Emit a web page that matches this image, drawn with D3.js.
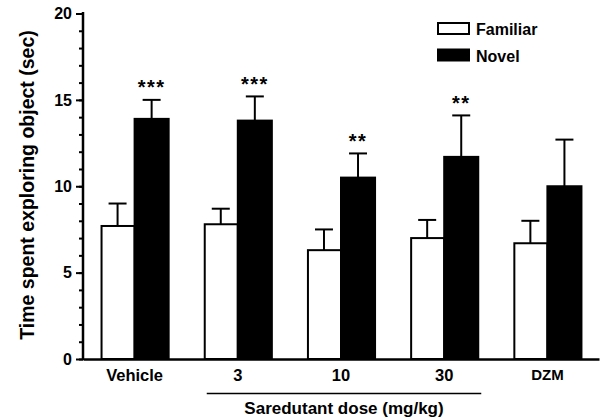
<!DOCTYPE html>
<html>
<head>
<meta charset="utf-8">
<script src="https://cdn.jsdelivr.net/npm/d3@7"></script>
<style>
  body { margin: 0; background: #fff; }
  text { font-family: "Liberation Sans", Arial, sans-serif; font-weight: bold; fill: #000; }
</style>
</head>
<body>
<div id="chart"></div>
<script>
// values (mean and SEM, seconds)
const groups = ["Vehicle", "3", "10", "30", "DZM"];
const series = ["Familiar", "Novel"];
const familiar = [7.7, 7.8, 6.3, 7.0, 6.7];
const familiarErr = [1.3, 0.9, 1.2, 1.05, 1.3];
const novel = [13.9, 13.8, 10.5, 11.7, 10.0];
const novelErr = [1.1, 1.4, 1.4, 2.4, 2.7];
const stars = ["***", "***", "**", "**", ""];
const yTicks = [0, 5, 10, 15, 20];

const W = 610, H = 418;
const margin = {top: 13.5, right: 11, bottom: 59, left: 83};

const svg = d3.select("#chart").append("svg")
  .attr("width", W)
  .attr("height", H);

const x0 = d3.scaleBand()
  .domain(groups)
  .range([margin.left, W - margin.right])
  .paddingInner(0.34)
  .paddingOuter(0.17);

const x1 = d3.scaleBand()
  .domain(series)
  .range([0, x0.bandwidth()]);

const y = d3.scaleLinear()
  .domain([0, 20])
  .range([H - margin.bottom, margin.top]);

const rows = groups.map((g, i) => ([
  {group: g, key: "Familiar", value: familiar[i], err: familiarErr[i], star: ""},
  {group: g, key: "Novel", value: novel[i], err: novelErr[i], star: stars[i]}
])).flat();

const colors = {Familiar: "#fff", Novel: "#000"};

// error bars (upper only) behind the bars
const eb = svg.append("g").attr("stroke", "#000").attr("stroke-width", 2);
rows.forEach(d => {
  const cx = x0(d.group) + x1(d.key) + x1.bandwidth() / 2;
  eb.append("line")
    .attr("x1", cx).attr("x2", cx)
    .attr("y1", y(d.value)).attr("y2", y(d.value + d.err));
  eb.append("line")
    .attr("x1", cx - 9).attr("x2", cx + 9)
    .attr("y1", y(d.value + d.err)).attr("y2", y(d.value + d.err));
});

svg.append("g")
  .selectAll("rect")
  .data(rows)
  .enter()
  .append("rect")
    .attr("x", d => x0(d.group) + x1(d.key) + (d.key === "Familiar" ? 1 : 0))
    .attr("width", d => x1.bandwidth() - (d.key === "Familiar" ? 1 : 0))
    .attr("y", d => y(d.value))
    .attr("height", d => y(0) - y(d.value))
    .attr("fill", d => colors[d.key])
    .attr("stroke", "#000")
    .attr("stroke-width", 2);

// significance stars
svg.append("g")
  .selectAll("text")
  .data(rows.filter(d => d.star))
  .enter()
  .append("text")
    .attr("x", d => x0(d.group) + x1(d.key) + x1.bandwidth() / 2)
    .attr("y", d => y(d.value + d.err) - 5.5)
    .attr("text-anchor", "middle")
    .attr("font-size", 20)
    .attr("letter-spacing", 1.5)
    .text(d => d.star);

// y axis: minor ticks every 1, major every 5
svg.append("g")
  .attr("transform", "translate(" + margin.left + ",0)")
  .call(d3.axisLeft(y).tickValues(d3.range(0, 21)).tickSize(4).tickFormat(""))
  .call(g => g.select(".domain").remove())
  .call(g => g.selectAll("line").attr("stroke-width", 2));

svg.append("g")
  .attr("transform", "translate(" + margin.left + ",0)")
  .call(d3.axisLeft(y).tickValues(yTicks).tickSize(7).tickPadding(4))
  .call(g => g.select(".domain").attr("stroke-width", 2.5).attr("d", "M0," + (y(0) + 1) + "V" + (y(20) - 1.5)))
  .call(g => g.selectAll("line").attr("stroke-width", 2))
  .call(g => g.selectAll("text").attr("font-size", 16));

// x axis
svg.append("g")
  .attr("transform", "translate(0," + y(0) + ")")
  .call(d3.axisBottom(x0).tickSize(0).tickPadding(10.5))
  .call(g => g.select(".domain").attr("stroke-width", 2.5))
  .call(g => g.selectAll("text")
    .attr("font-size", d => d === "DZM" ? 15 : 16.5));

// bracket under the saredutant doses
const bx1 = x0("3") + 3, bx2 = x0("30") + x0.bandwidth() + 3;
svg.append("line")
  .attr("x1", bx1).attr("x2", bx2)
  .attr("y1", 393.5).attr("y2", 393.5)
  .attr("stroke", "#000").attr("stroke-width", 1.5);
svg.append("text")
  .attr("x", (bx1 + bx2) / 2)
  .attr("y", 414)
  .attr("text-anchor", "middle")
  .attr("font-size", 17)
  .text("Saredutant dose (mg/kg)");

// y title
svg.append("text")
  .attr("transform", "translate(34," + 185 + ") rotate(-90)")
  .attr("text-anchor", "middle")
  .attr("font-size", 19.5)
  .text("Time spent exploring object (sec)");

// legend
const legend = svg.append("g");
series.forEach((s, i) => {
  legend.append("rect")
    .attr("x", 438).attr("y", 23 + i * 26.5)
    .attr("width", 31).attr("height", 11)
    .attr("fill", colors[s])
    .attr("stroke", "#000").attr("stroke-width", 2);
  legend.append("text")
    .attr("x", 476).attr("y", 35 + i * 26.5)
    .attr("font-size", 16)
    .text(s);
});
</script>
</body>
</html>
